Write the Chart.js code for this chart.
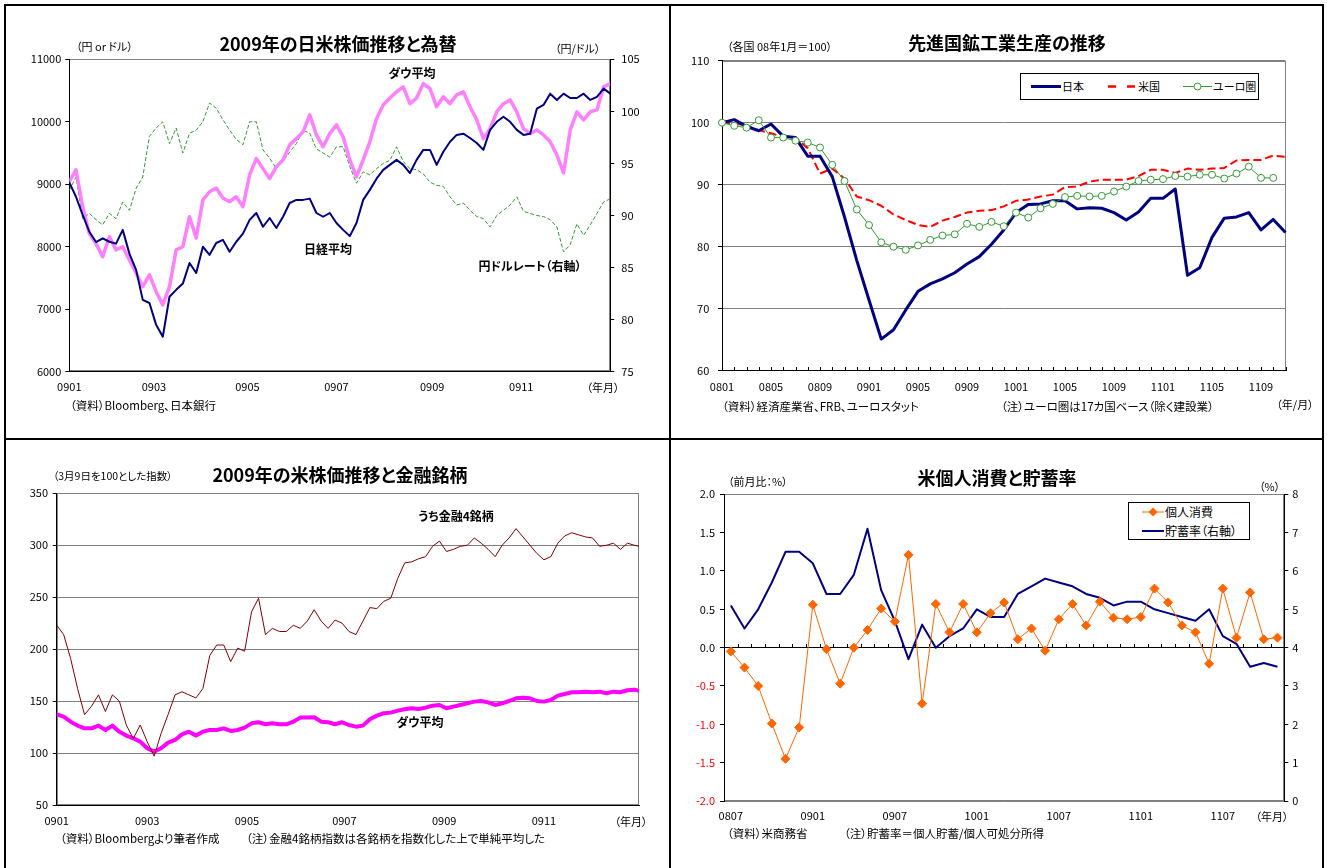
<!DOCTYPE html>
<html lang="ja">
<head>
<meta charset="utf-8">
<title>2009年の株価・鉱工業生産・個人消費</title>
<script src="https://cdn.jsdelivr.net/npm/chart.js@4.4.1/dist/chart.umd.min.js"></script>
<style>
  html, body { margin: 0; padding: 0; background: #fff; }
  body { width: 1327px; height: 868px; position: relative; overflow: hidden;
         font-family: 'Noto Sans CJK JP', 'Noto Sans', sans-serif; color: #000; }
  canvas { position: absolute; }
  .t { position: absolute; white-space: nowrap; font-feature-settings: "palt"; line-height: 1; z-index: 3; }
  .c { transform: translate(-50%, -50%); }
  .l { transform: translateY(-50%); }
  .title { font-size: 18px; font-weight: bold; }
  .unit { font-size: 11px; }
  .note { font-size: 11.5px; }
  .ann { font-size: 12px; font-weight: bold; }
  .leg { font-size: 12px; }
  .frame { position: absolute; left: 4px; top: 4px; width: 1320px; height: 900px;
           border: 2px solid #000; box-sizing: border-box; z-index: 4; }
  .rule { position: absolute; background: #000; z-index: 4; }
  .legbox { position: absolute; border: 1px solid #000; background: #fff; box-sizing: border-box; z-index: 2; }
  svg.sw { position: absolute; left: 0; top: 0; z-index: 3; }
</style>
</head>
<body>

<canvas id="tl" width="663" height="432" style="left:6px;top:6px"></canvas>
<canvas id="tr" width="651" height="432" style="left:671px;top:6px"></canvas>
<canvas id="bl" width="663" height="428" style="left:6px;top:440px"></canvas>
<canvas id="br" width="651" height="428" style="left:671px;top:440px"></canvas>

<div class="frame"></div>
<div class="rule" style="left:669px;top:4px;width:2px;height:870px"></div>
<div class="rule" style="left:4px;top:438px;width:1320px;height:2px"></div>

<!-- 2009年の日米株価推移と為替 -->
<div class="t c title" style="left:338px;top:43px">2009年の日米株価推移と為替</div>
<div class="t l unit" style="left:76px;top:46px">（円 or ドル）</div>
<div class="t l unit" style="left:555px;top:48px">（円/ドル）</div>
<div class="t c unit" style="left:603px;top:387px">（年月）</div>
<div class="t l note" style="left:70px;top:406px">（資料）Bloomberg、日本銀行</div>
<div class="t c ann" style="left:412px;top:73px">ダウ平均</div>
<div class="t c ann" style="left:328px;top:249px">日経平均</div>
<div class="t c ann" style="left:530px;top:266px">円ドルレート（右軸）</div>

<!-- 先進国鉱工業生産の推移 -->
<div class="t c title" style="left:1007px;top:42px">先進国鉱工業生産の推移</div>
<div class="t l unit" style="left:727px;top:46px">（各国 08年1月＝100）</div>
<div class="t l note" style="left:722px;top:407px">（資料）経済産業省、FRB、ユーロスタット</div>
<div class="t l note" style="left:1001px;top:407px">（注）ユーロ圏は17カ国ベース（除く建設業）</div>
<div class="t c unit" style="left:1295px;top:404px">（年/月）</div>
<div class="legbox" style="left:1020px;top:73px;width:239px;height:27px"></div>
<div class="t l leg" style="left:1062px;top:86px;font-size:11px">日本</div>
<div class="t l leg" style="left:1138px;top:86px;font-size:11px">米国</div>
<div class="t l leg" style="left:1213px;top:86px;font-size:11px">ユーロ圏</div>

<!-- 2009年の米株価推移と金融銘柄 -->
<div class="t c title" style="left:340px;top:474px">2009年の米株価推移と金融銘柄</div>
<div class="t l unit" style="left:53px;top:476px;font-size:10.5px">（3月9日を100とした指数）</div>
<div class="t c unit" style="left:631px;top:821px">（年月）</div>
<div class="t l note" style="left:60px;top:839px">（資料）Bloombergより筆者作成</div>
<div class="t l note" style="left:246px;top:839px">（注）金融4銘柄指数は各銘柄を指数化した上で単純平均した</div>
<div class="t c ann" style="left:456px;top:516px">うち金融4銘柄</div>
<div class="t c ann" style="left:420px;top:722px">ダウ平均</div>

<!-- 米個人消費と貯蓄率 -->
<div class="t c title" style="left:997px;top:477px">米個人消費と貯蓄率</div>
<div class="t l unit" style="left:728px;top:481px">（前月比：%）</div>
<div class="t l unit" style="left:1259px;top:486px">（%）</div>
<div class="t c unit" style="left:1272px;top:816px">（年月）</div>
<div class="t l note" style="left:727px;top:834px">（資料）米商務省</div>
<div class="t l note" style="left:844px;top:834px">（注）貯蓄率＝個人貯蓄/個人可処分所得</div>
<div class="legbox" style="left:1128px;top:502px;width:122px;height:38px"></div>
<div class="t l leg" style="left:1165px;top:512px">個人消費</div>
<div class="t l leg" style="left:1165px;top:531px">貯蓄率（右軸）</div>

<!-- legend swatches -->
<svg class="sw" width="1327" height="868">
  <line x1="1031" y1="86.5" x2="1061" y2="86.5" stroke="#000080" stroke-width="3"/>
  <line x1="1108" y1="86.5" x2="1116" y2="86.5" stroke="#FF0000" stroke-width="2.5"/>
  <line x1="1127" y1="86.5" x2="1135" y2="86.5" stroke="#FF0000" stroke-width="2.5"/>
  <line x1="1183" y1="86.5" x2="1212" y2="86.5" stroke="#339933" stroke-width="1"/>
  <circle cx="1197.5" cy="86.5" r="3.5" fill="#fff" stroke="#339933" stroke-width="1"/>
  <line x1="1142" y1="512" x2="1164" y2="512" stroke="#FF6600" stroke-width="1"/>
  <polygon points="1153,507.5 1157.5,512 1153,516.5 1148.5,512" fill="#FF6600"/>
  <line x1="1142" y1="531" x2="1164" y2="531" stroke="#000080" stroke-width="2"/>
</svg>

<script>
// ---------- 2009年の日米株価推移と為替 (every 3rd TSE trading day) ----------
const TL_STEP = 3;
const TL_LAST_DAY = 243;
const TL_TICK_DAYS = [0, 38, 80, 120, 163, 203];
const TL_TICK_LABELS = ['0901', '0903', '0905', '0907', '0909', '0911'];
const TL_NIKKEI = [9030, 8800, 8510, 8240, 8075, 8135, 8080, 8050, 8270, 7890,
  7630, 7150, 7100, 6750, 6560, 7200, 7310, 7410, 7740, 7580,
  8000, 7870, 8060, 8110, 7920, 8080, 8210, 8430, 8540, 8320,
  8460, 8300, 8480, 8700, 8750, 8750, 8770, 8540, 8480, 8540,
  8380, 8270, 8170, 8380, 8750, 8910, 9090, 9230, 9310, 9390,
  9310, 9180, 9390, 9550, 9550, 9310, 9520, 9680, 9790, 9810,
  9740, 9660, 9550, 9870, 10000, 10080, 10000, 9870, 9790, 9810,
  10210, 10270, 10450, 10350, 10450, 10380, 10380, 10450, 10350, 10400,
  10530, 10450];
const TL_DOW = [9040, 9230, 8640, 8210, 8050, 7840, 8160, 7950, 8000, 7790,
  7580, 7360, 7550, 7280, 7070, 7360, 7950, 8000, 8480, 8140,
  8750, 8880, 8940, 8780, 8720, 8800, 8640, 9150, 9410, 9250,
  9090, 9280, 9390, 9630, 9730, 9840, 10110, 9790, 9600, 9810,
  9950, 9760, 9390, 9120, 9390, 9680, 10050, 10270, 10380, 10480,
  10560, 10290, 10380, 10610, 10530, 10240, 10400, 10290, 10430, 10480,
  10240, 10030, 9730, 9890, 10160, 10290, 10350, 10160, 9890, 9810,
  9870, 9790, 9680, 9470, 9180, 9870, 10160, 10030, 10160, 10190,
  10560, 10610];
const TL_USDJPY = [92.4, 93.7, 89.7, 90.2, 89.6, 89.1, 90.2, 89.7, 91.3, 90.5,
  92.6, 93.7, 97.6, 98.4, 99.0, 96.9, 98.4, 96.0, 97.9, 98.2,
  99.0, 100.8, 100.3, 99.2, 98.2, 97.3, 96.8, 99.0, 99.0, 96.3,
  95.5, 94.5, 95.2, 96.1, 96.9, 98.2, 97.9, 96.4, 96.0, 95.6,
  96.6, 96.6, 94.7, 93.1, 94.2, 93.9, 94.5, 95.0, 95.3, 96.6,
  95.2, 94.5, 94.4, 94.0, 93.2, 92.9, 92.8, 91.8, 91.0, 91.2,
  90.5, 89.9, 89.7, 88.9, 90.0, 90.5, 91.0, 91.8, 90.4, 90.2,
  90.0, 89.9, 89.6, 88.9, 86.5, 87.2, 89.2, 88.1, 89.1, 90.2,
  91.3, 91.6];

// ---------- 先進国鉱工業生産の推移 (08年1月＝100) ----------
const TR_MONTHS = ['0801','0802','0803','0804','0805','0806','0807','0808','0809','0810','0811','0812',
  '0901','0902','0903','0904','0905','0906','0907','0908','0909','0910','0911','0912',
  '1001','1002','1003','1004','1005','1006','1007','1008','1009','1010','1011','1012',
  '1101','1102','1103','1104','1105','1106','1107','1108','1109','1110','1111'];
const TR_LABEL_EVERY = 4;
const TR_JAPAN = [100.0, 100.5, 99.4, 98.7, 99.8, 97.8, 97.6, 94.6, 94.6, 91.3,
  84.8, 77.8, 71.4, 65.1, 66.6, 69.8, 72.8, 74.0, 74.8, 75.8,
  77.2, 78.4, 80.4, 82.7, 85.5, 86.8, 86.9, 87.4, 87.4, 86.1,
  86.3, 86.2, 85.5, 84.3, 85.6, 87.8, 87.8, 89.3, 75.4, 76.6,
  81.5, 84.6, 84.8, 85.5, 82.7, 84.4, 82.3];
const TR_US = [100.0, 99.9, 99.5, 98.8, 98.3, 97.7, 97.6, 95.9, 91.8, 92.6,
  91.0, 88.1, 87.5, 86.6, 85.2, 84.3, 83.5, 83.2, 84.2, 84.8,
  85.5, 85.8, 85.9, 86.5, 87.4, 87.6, 88.1, 88.4, 89.6, 89.7,
  90.5, 90.8, 90.8, 90.8, 91.4, 92.4, 92.4, 91.9, 92.6, 92.4,
  92.6, 92.7, 93.9, 94.0, 94.0, 94.7, 94.5];
const TR_EURO = [100.0, 99.5, 99.2, 100.4, 97.6, 97.6, 97.1, 96.8, 96.0, 93.2,
  90.6, 86.0, 83.5, 80.7, 80.0, 79.5, 80.2, 81.1, 81.8, 82.0,
  83.7, 83.2, 84.0, 83.3, 85.5, 84.7, 86.2, 86.9, 88.0, 88.2,
  88.1, 88.2, 88.9, 89.7, 90.6, 90.8, 90.9, 91.4, 91.3, 91.6,
  91.6, 91.0, 91.8, 92.9, 91.1, 91.1, null];

// ---------- 2009年の米株価推移と金融銘柄 (every 3rd NYSE trading day, 3月9日＝100) ----------
const BL_STEP = 3;
const BL_LAST_DAY = 251;
const BL_TICK_DAYS = [0, 39, 82, 124, 167, 210];
const BL_TICK_LABELS = ['0901', '0903', '0905', '0907', '0909', '0911'];
const BL_FIN4 = [223, 214, 191, 162, 137, 145, 156, 140, 156, 150,
  127, 114, 127, 111, 97, 119, 137, 156, 159, 156,
  153, 162, 194, 204, 204, 188, 201, 198, 236, 249,
  214, 220, 217, 217, 223, 220, 227, 238, 227, 220,
  228, 225, 217, 214, 227, 240, 239, 246, 249, 268,
  283, 284, 287, 289, 299, 304, 294, 296, 299, 300,
  307, 302, 296, 289, 300, 307, 316, 308, 300, 292,
  286, 289, 302, 309, 312, 310, 308, 307, 299, 300,
  302, 296, 302, 300, 299];
const BL_DOW = [137.3, 135.0, 130.2, 126.4, 123.8, 123.8, 126.4, 122.2, 126.4, 120.6,
  116.8, 114.2, 111.0, 104.6, 101.4, 104.6, 110.0, 112.6, 118.0, 120.6,
  116.8, 120.6, 122.2, 122.2, 123.8, 121.3, 122.2, 124.5, 128.6, 129.6,
  127.7, 128.6, 127.7, 127.7, 130.2, 134.1, 134.1, 134.4, 130.2, 129.6,
  127.7, 129.6, 127.0, 125.4, 126.4, 132.5, 136.0, 138.3, 138.9, 140.8,
  142.1, 143.1, 142.4, 143.7, 145.6, 146.3, 143.1, 144.7, 146.3, 147.9,
  149.5, 150.1, 148.8, 146.3, 147.9, 150.1, 152.7, 153.3, 152.7, 150.1,
  149.5, 151.1, 155.3, 156.9, 158.5, 158.5, 159.1, 158.5, 159.1, 157.5,
  159.1, 158.5, 160.4, 161.0, 159.8];

// ---------- 米個人消費と貯蓄率 ----------
const BR_MONTHS = ['0807','0808','0809','0810','0811','0812',
  '0901','0902','0903','0904','0905','0906','0907','0908','0909','0910','0911','0912',
  '1001','1002','1003','1004','1005','1006','1007','1008','1009','1010','1011','1012',
  '1101','1102','1103','1104','1105','1106','1107','1108','1109','1110','1111'];
const BR_LABEL_EVERY = 6;
const BR_PCE = [-0.05, -0.26, -0.50, -0.99, -1.45, -1.04, 0.56, -0.02, -0.47, 0.00,
  0.23, 0.51, 0.34, 1.21, -0.73, 0.57, 0.20, 0.57, 0.20, 0.45,
  0.59, 0.11, 0.25, -0.04, 0.37, 0.57, 0.29, 0.60, 0.39, 0.37,
  0.40, 0.77, 0.59, 0.29, 0.20, -0.21, 0.77, 0.13, 0.72, 0.11,
  0.13];
const BR_SAVING = [5.1, 4.5, 5.0, 5.7, 6.5, 6.5, 6.2, 5.4, 5.4, 5.9,
  7.1, 5.5, 4.7, 3.7, 4.6, 4.0, 4.3, 4.5, 5.0, 4.8,
  4.8, 5.4, 5.6, 5.8, 5.7, 5.6, 5.4, 5.3, 5.1, 5.2,
  5.2, 5.0, 4.9, 4.8, 4.7, 5.0, 4.3, 4.1, 3.5, 3.6,
  3.5];

// ---------- shared setup ----------
Chart.defaults.font.family = "'Noto Sans CJK JP', 'Noto Sans', sans-serif";
Chart.defaults.font.size = 11;
Chart.defaults.color = '#000';
Chart.defaults.animation = false;

const fixW = w => s => { s.width = w; };
const fixH = h => s => { s.height = h; };
const daySeries = (arr, step, last) => arr.map((v, i) => ({ x: Math.min(i * step, last), y: v }));
const plain = v => String(v);

// gray plot-area box, drawn beneath the axes
const plotFrame = {
  id: 'plotFrame',
  beforeDraw(chart) {
    const a = chart.chartArea, ctx = chart.ctx;
    ctx.save();
    ctx.strokeStyle = '#808080';
    ctx.lineWidth = 1;
    ctx.strokeRect(Math.round(a.left) + 0.5, Math.round(a.top) + 0.5,
                   Math.round(a.right - a.left) - 1, Math.round(a.bottom - a.top) - 1);
    ctx.restore();
  }
};

// short inward tick marks on the category axis
const catTicks = {
  id: 'catTicks',
  beforeDatasetsDraw(chart, args, opts) {
    if (!opts || !opts.len) return;
    const xs = chart.scales.x, ctx = chart.ctx;
    const n = chart.data.labels.length;
    const step = xs.getPixelForValue(1) - xs.getPixelForValue(0);
    const y0 = Math.round(opts.zero ? chart.scales[opts.yScale].getPixelForValue(0) : chart.chartArea.bottom);
    ctx.save();
    ctx.strokeStyle = '#000';
    ctx.lineWidth = 1;
    ctx.beginPath();
    const count = opts.between ? n + 1 : n;
    for (let i = 0; i < count; i++) {
      const px = opts.between ? xs.getPixelForValue(0) + (i - 0.5) * step : xs.getPixelForValue(i);
      const x = Math.round(px) + 0.5;
      ctx.moveTo(x, y0);
      ctx.lineTo(x, y0 - opts.len);
    }
    ctx.stroke();
    ctx.restore();
  }
};

const baseOpts = {
  responsive: false,
  animation: false,
  events: [],
  elements: { point: { radius: 0 }, line: { tension: 0, borderJoinStyle: 'round', fill: false } },
};

function yAxis(pos, min, max, step, width, padding, extra = {}) {
  return Object.assign({
    position: pos, min, max,
    ticks: { stepSize: step, padding, autoSkip: false, callback: plain },
    grid: { drawOnChartArea: false, tickLength: 4, tickColor: '#000' },
    border: { color: '#000' },
    afterFit: fixW(width)
  }, extra);
}

// ---------- chart 1 ----------
new Chart(document.getElementById('tl'), {
  type: 'line',
  data: {
    datasets: [
      { label: '日経平均', data: daySeries(TL_NIKKEI, TL_STEP, TL_LAST_DAY), borderColor: '#000080', borderWidth: 2, yAxisID: 'y' },
      { label: 'ダウ平均', data: daySeries(TL_DOW, TL_STEP, TL_LAST_DAY), borderColor: '#FF80FF', borderWidth: 3.5, yAxisID: 'y' },
      { label: '円ドルレート（右軸）', data: daySeries(TL_USDJPY, TL_STEP, TL_LAST_DAY), borderColor: '#339933', borderWidth: 1, borderDash: [4, 2], yAxisID: 'y2' }
    ]
  },
  options: Object.assign({}, baseOpts, {
    layout: { padding: { left: 13.3, top: 53.3, right: 18.7, bottom: 36.3 } },
    plugins: { legend: { display: false }, tooltip: { enabled: false } },
    scales: {
      x: {
        type: 'linear', min: 0, max: TL_LAST_DAY,
        afterBuildTicks: s => { s.ticks = TL_TICK_DAYS.map(v => ({ value: v })); },
        ticks: { autoSkip: false, maxRotation: 0, padding: 8.4,
                 callback: v => { const k = TL_TICK_DAYS.indexOf(v); return k >= 0 ? TL_TICK_LABELS[k] : ''; } },
        grid: { display: true, drawOnChartArea: false, drawTicks: false },
        border: { color: '#000' },
        afterFit: fixH(30)
      },
      y: yAxis('left', 6000, 11000, 1000, 50, 4),
      y2: yAxis('right', 75, 105, 5, 40, 7)
    }
  }),
  plugins: [plotFrame]
});

// ---------- chart 2 ----------
new Chart(document.getElementById('tr'), {
  type: 'line',
  data: {
    labels: TR_MONTHS,
    datasets: [
      { label: 'ユーロ圏', data: TR_EURO, borderColor: '#339933', borderWidth: 1,
        pointRadius: 3.5, pointStyle: 'circle', pointBackgroundColor: '#fff', pointBorderColor: '#339933', pointBorderWidth: 1 },
      { label: '日本', data: TR_JAPAN, borderColor: '#000080', borderWidth: 3 },
      { label: '米国', data: TR_US, borderColor: '#FF0000', borderWidth: 2, borderDash: [8, 4] }
    ]
  },
  options: Object.assign({}, baseOpts, {
    layout: { padding: { left: 6, top: 54.7, right: 36.5, bottom: 37.3 } },
    plugins: { legend: { display: false }, tooltip: { enabled: false },
               catTicks: { len: 4, between: false, zero: false } },
    scales: {
      x: {
        type: 'category', offset: false,
        ticks: { autoSkip: false, maxRotation: 0, padding: 9.4,
                 callback: (v, i) => (i % TR_LABEL_EVERY === 0 ? TR_MONTHS[i] : '') },
        grid: { display: true, drawOnChartArea: false, drawTicks: false },
        border: { color: '#000' },
        afterFit: fixH(30)
      },
      y: yAxis('left', 60, 110, 10, 45, 8.7,
               { grid: { drawOnChartArea: true, color: '#808080', tickLength: 4, tickColor: '#000' } })
    }
  }),
  plugins: [plotFrame, catTicks]
});

// ---------- chart 3 ----------
new Chart(document.getElementById('bl'), {
  type: 'line',
  data: {
    datasets: [
      { label: 'うち金融4銘柄', data: daySeries(BL_FIN4, BL_STEP, BL_LAST_DAY), borderColor: '#800000', borderWidth: 1 },
      { label: 'ダウ平均', data: daySeries(BL_DOW, BL_STEP, BL_LAST_DAY), borderColor: '#FF00FF', borderWidth: 4 }
    ]
  },
  options: Object.assign({}, baseOpts, {
    layout: { padding: { left: 5.7, top: 53.3, right: 30, bottom: 33 } },
    plugins: { legend: { display: false }, tooltip: { enabled: false } },
    scales: {
      x: {
        type: 'linear', min: 0, max: BL_LAST_DAY,
        afterBuildTicks: s => { s.ticks = BL_TICK_DAYS.map(v => ({ value: v })); },
        ticks: { autoSkip: false, maxRotation: 0, padding: 9.4,
                 callback: v => { const k = BL_TICK_DAYS.indexOf(v); return k >= 0 ? BL_TICK_LABELS[k] : ''; } },
        grid: { display: true, drawOnChartArea: false, drawTicks: false },
        border: { color: '#000' },
        afterFit: fixH(30)
      },
      y: yAxis('left', 50, 350, 50, 45, 4.7,
               { grid: { drawOnChartArea: true, color: '#808080', tickLength: 4, tickColor: '#000' } })
    }
  }),
  plugins: [plotFrame]
});

// ---------- chart 4 ----------
new Chart(document.getElementById('br'), {
  type: 'line',
  data: {
    labels: BR_MONTHS,
    datasets: [
      { label: '個人消費', data: BR_PCE, borderColor: '#FF6600', borderWidth: 1, yAxisID: 'y',
        pointRadius: 4.5, pointStyle: 'rectRot', pointBackgroundColor: '#FF6600', pointBorderColor: '#FF6600', pointBorderWidth: 1 },
      { label: '貯蓄率（右軸）', data: BR_SAVING, borderColor: '#000080', borderWidth: 2, yAxisID: 'y2' }
    ]
  },
  options: Object.assign({}, baseOpts, {
    layout: { padding: { left: 8, top: 54.3, right: 7.7, bottom: 37 } },
    plugins: { legend: { display: false }, tooltip: { enabled: false },
               catTicks: { len: 4, between: true, zero: true, yScale: 'y' } },
    scales: {
      x: {
        type: 'category', offset: true,
        ticks: { autoSkip: false, maxRotation: 0, padding: 8,
                 callback: (v, i) => (i % BR_LABEL_EVERY === 0 ? BR_MONTHS[i] : '') },
        grid: { display: true, drawOnChartArea: false, drawTicks: false, offset: true },
        border: { color: '#808080' },
        afterFit: fixH(30)
      },
      y: {
        position: 'left', min: -2, max: 2,
        ticks: { stepSize: 0.5, padding: 5, autoSkip: false,
                 callback: v => v.toFixed(1),
                 color: c => (c.tick && c.tick.value < 0 ? '#FF0000' : '#000') },
        grid: { drawOnChartArea: true, tickLength: 4, tickColor: '#000',
                color: c => (c.tick && c.tick.value === 0 ? '#000' : 'rgba(0,0,0,0)') },
        border: { color: '#000' },
        afterFit: fixW(45)
      },
      y2: yAxis('right', 0, 8, 1, 30, 4)
    }
  }),
  plugins: [plotFrame, catTicks]
});
</script>
</body>
</html>
